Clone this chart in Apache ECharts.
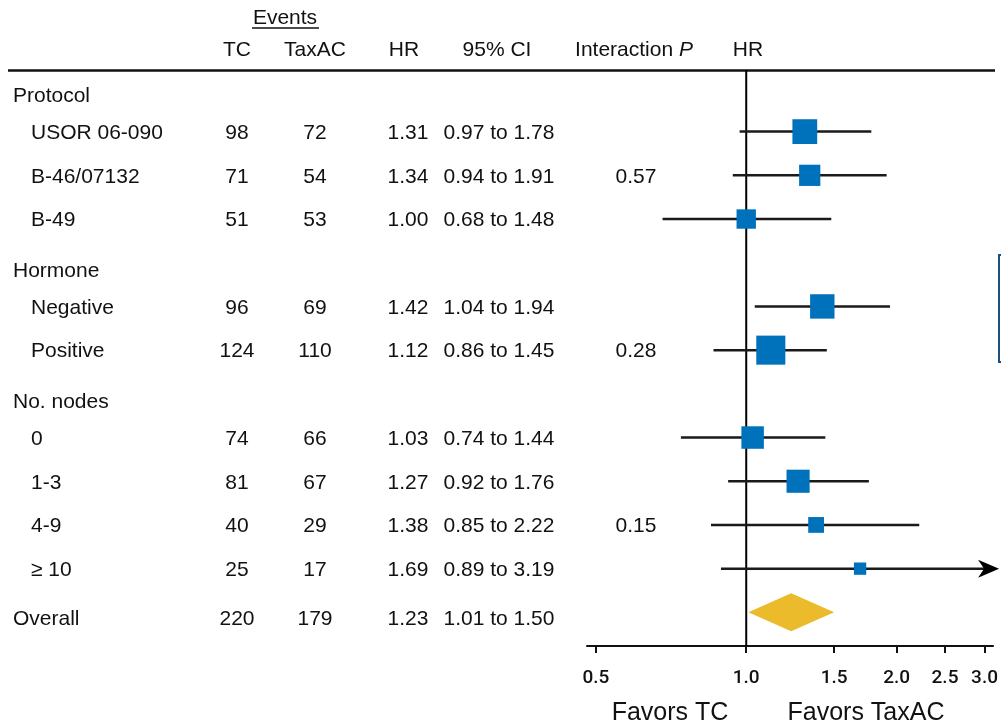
<!DOCTYPE html>
<html><head><meta charset="utf-8">
<script src="https://cdn.jsdelivr.net/npm/echarts@6/dist/echarts.min.js"></script>
<style>html,body{margin:0;padding:0;background:#fff}#c{width:1001px;height:725px}</style>
</head><body><div id="c"></div>
<script>
// ---- data ----
const rowLabels = ['Protocol','USOR 06-090','B-46/07132','B-49','Hormone','Negative','Positive','No. nodes','0','1-3','4-9','\u2265 10','Overall'];
const rowKinds  = ['group','item','item','item','group','item','item','group','item','item','item','item','overall'];
const tcEvents     = [null, 98, 71, 51, null, 96, 124, null, 74, 81, 40, 25, 220];
const taxacEvents  = [null, 72, 54, 53, null, 69, 110, null, 66, 67, 29, 17, 179];
const hazardRatio  = [null, 1.31, 1.34, 1.00, null, 1.42, 1.12, null, 1.03, 1.27, 1.38, 1.69, 1.23];
const ciLower      = [null, 0.97, 0.94, 0.68, null, 1.04, 0.86, null, 0.74, 0.92, 0.85, 0.89, 1.01];
const ciUpper      = [null, 1.78, 1.91, 1.48, null, 1.94, 1.45, null, 1.44, 1.76, 2.22, 3.19, 1.50];
const interactionP = [null, null, '0.57', null, null, null, '0.28', null, null, null, '0.15', null, null];
const xTicks = [0.5, 1.0, 1.5, 2.0, 2.5, 3.0];
const headerLabels = ['TC', 'TaxAC', 'HR', '95% CI', 'Interaction {i|P}', 'HR'];

// ---- style / layout ----
const FONT = '"Liberation Sans", Arial, Helvetica, sans-serif';
const TXT = '#111';
const BLUE = '#0072BC';
const GOLD = '#EBBB2B';
const X_MIN = 0.48, X_MAX = 3.12;
const COLX = { label: 13, indent: 31, tc: 237, taxac: 315, hr: 408, ci: 499, p: 636 };
const HEADX = [237, 315, 404, 497, 634, 748];
const TEXT_DY = 1.5, GROUP_DY = 7, OVERALL_DY = 5;

const chart = echarts.init(document.getElementById('c'));

const rowIdx = rowLabels.map((_, i) => i);
const forestData = rowIdx.filter(i => rowKinds[i] !== 'group')
  .map(i => [hazardRatio[i], i, ciLower[i], ciUpper[i], tcEvents[i] + taxacEvents[i], rowKinds[i] === 'overall' ? 1 : 0]);

function txt(x, y, text, align, extra) {
  return { type: 'text', x: x, y: y, style: Object.assign({ text: text, fill: TXT, font: '21px ' + FONT, align: align || 'center', verticalAlign: 'middle' }, extra || {}) };
}

const option = {
  animation: false,
  backgroundColor: '#fff',
  grid: { left: 587, right: 6, top: 70, bottom: 79 },
  xAxis: {
    type: 'log', logBase: 10, min: X_MIN, max: X_MAX,
    axisLine: { onZero: false, lineStyle: { color: '#111', width: 2 } },
    axisTick: { customValues: xTicks, length: 7, lineStyle: { color: '#111', width: 2 } },
    minorTick: { show: false },
    splitLine: { show: false },
    axisLabel: { customValues: xTicks, formatter: v => Number(v).toFixed(1), fontFamily: 'Roboto', fontSize: 19, fontWeight: 500, color: '#111', margin: 23 }
  },
  yAxis: { type: 'value', inverse: true, min: -0.41, max: 12.77, show: false },
  series: [
    { // reference line at HR = 1
      type: 'custom', z: 1, clip: false, silent: true,
      data: [[1, 0]],
      renderItem: function (params, api) {
        const cs = params.coordSys;
        const x = api.coord([api.value(0), 0])[0];
        return { type: 'line', shape: { x1: x, y1: cs.y, x2: x, y2: cs.y + cs.height }, style: { stroke: '#000', lineWidth: 2 } };
      }
    },
    { // CI lines, squares, diamond
      type: 'custom', z: 2, clip: false, silent: true,
      data: forestData,
      renderItem: function (params, api) {
        const y = api.coord([1, api.value(1)])[1];
        const xc = api.coord([api.value(0), 1])[0];
        const xl = api.coord([api.value(2), 1])[0];
        const hi = api.value(3);
        const xMaxPx = api.coord([X_MAX, 1])[0];
        const children = [];
        if (api.value(5) === 1) {
          const xh = api.coord([hi, 1])[0];
          children.push({ type: 'polygon', shape: { points: [[xl, y], [xc, y - 19], [xh, y], [xc, y + 19]] }, style: { fill: GOLD } });
          return { type: 'group', children: children };
        }
        if (hi > X_MAX) {
          const tip = xMaxPx + 6;
          children.push({ type: 'line', shape: { x1: xl, y1: y, x2: tip - 10, y2: y }, style: { stroke: '#1a1a1a', lineWidth: 2.5 } });
          children.push({ type: 'polygon', shape: { points: [[tip, y], [tip - 21, y - 9], [tip - 15, y], [tip - 21, y + 9]] }, style: { fill: '#000' } });
        } else {
          const xh = api.coord([hi, 1])[0];
          children.push({ type: 'line', shape: { x1: xl, y1: y, x2: xh, y2: y }, style: { stroke: '#1a1a1a', lineWidth: 2.5 } });
        }
        const s = 1.9 * Math.sqrt(api.value(4));
        children.push({ type: 'rect', shape: { x: xc - s / 2, y: y - s / 2, width: s, height: s }, style: { fill: BLUE } });
        return { type: 'group', children: children };
      }
    },
    { // table text
      type: 'custom', z: 3, clip: false, silent: true,
      data: rowIdx.map(i => [1, i]),
      renderItem: function (params, api) {
        const i = api.value(1);
        const kind = rowKinds[i];
        let y = api.coord([1, i])[1] + TEXT_DY;
        if (kind === 'group') y += GROUP_DY;
        if (kind === 'overall') y += OVERALL_DY;
        const ch = [];
        ch.push(txt(kind === 'item' ? COLX.indent : COLX.label, y, rowLabels[i], 'left'));
        if (kind !== 'group') {
          ch.push(txt(COLX.tc, y, String(tcEvents[i])));
          ch.push(txt(COLX.taxac, y, String(taxacEvents[i])));
          ch.push(txt(COLX.hr, y, hazardRatio[i].toFixed(2)));
          ch.push(txt(COLX.ci, y, ciLower[i].toFixed(2) + ' to ' + ciUpper[i].toFixed(2)));
        }
        if (interactionP[i]) ch.push(txt(COLX.p, y, interactionP[i]));
        return { type: 'group', children: ch };
      }
    }
  ],
  graphic: [
    { type: 'text', x: 285, y: 18, style: { text: 'Events', fill: TXT, font: '21px ' + FONT, align: 'center', verticalAlign: 'middle' } },
    { type: 'line', shape: { x1: 252, y1: 28, x2: 319, y2: 28 }, style: { stroke: '#111', lineWidth: 1.5 } },
    ...headerLabels.map((t, k) => ({
      type: 'text', x: HEADX[k], y: 50,
      style: { text: t, fill: TXT, font: '21px ' + FONT, align: 'center', verticalAlign: 'middle',
        rich: { i: { fontStyle: 'italic', fontSize: 21, fontFamily: FONT, fill: TXT } } }
    })),
    { type: 'line', shape: { x1: 8, y1: 70.5, x2: 995, y2: 70.5 }, style: { stroke: '#111', lineWidth: 2.5 } },
    { type: 'text', x: 670, y: 713, style: { text: 'Favors TC', fill: TXT, font: '25px ' + FONT, align: 'center', verticalAlign: 'middle' } },
    { type: 'text', x: 866, y: 713, style: { text: 'Favors TaxAC', fill: TXT, font: '25px ' + FONT, align: 'center', verticalAlign: 'middle' } },
    { type: 'polyline', shape: { points: [[1001, 255], [999, 255], [999, 362], [1001, 362]] }, style: { stroke: '#1D4F7C', lineWidth: 2, fill: null } }
  ]
};
chart.setOption(option);
</script>
</body></html>
